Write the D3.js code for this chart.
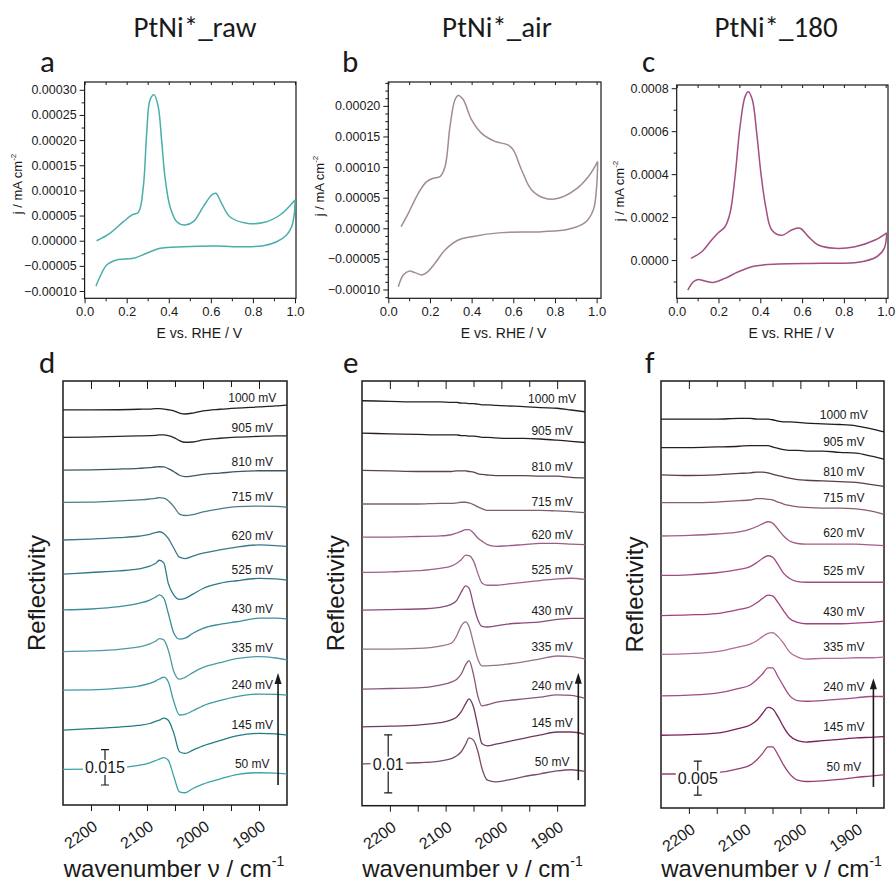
<!DOCTYPE html>
<html>
<head>
<meta charset="utf-8">
<script src="https://cdn.jsdelivr.net/npm/d3@7"></script>
<style>
    body { margin: 0; background: #fff; }
</style>
</head>
<body>
<div id="chart"></div>
<script>

/* * * * * * * * * * * * * *
*          data            *
* * * * * * * * * * * * * */

// electrode potentials of the stacked spectra (bottom to top)
const potentials = [50, 145, 240, 335, 430, 525, 620, 715, 810, 905, 1000];

// cyclic voltammograms, anodic (up) and cathodic (down) sweeps
const cvRawUpE = [0.057, 0.12, 0.184, 0.224, 0.256, 0.279, 0.295, 0.311, 0.33, 0.35, 0.366, 0.382, 0.406, 0.438, 0.477, 0.517, 0.564, 0.604, 0.624, 0.651, 0.69, 0.77, 0.85, 0.929, 1.0];
const cvRawUpJ = [0.0, 0.0000147, 0.0000378, 0.000051, 0.0000567, 0.000107, 0.000213, 0.00028, 0.00029, 0.000266, 0.0002, 0.000127, 0.0000676, 0.0000378, 0.0000312, 0.0000378, 0.0000676, 0.0000909, 0.0000942, 0.0000743, 0.0000477, 0.0000346, 0.000036, 0.0000511, 0.000081];
const cvRawDownE = [1.0, 0.997, 0.984, 0.96, 0.913, 0.85, 0.75, 0.627, 0.47, 0.358, 0.295, 0.232, 0.152, 0.105, 0.073, 0.054];
const cvRawDownJ = [0.000081, 0.0000545, 0.0000278, 0.0000113, -0.000002, -0.0000099, -0.0000119, -0.0000106, -0.0000119, -0.0000152, -0.000025, -0.000035, -0.0000384, -0.0000483, -0.0000716, -0.00009];

const cvAirUpE = [0.061, 0.096, 0.144, 0.184, 0.216, 0.248, 0.272, 0.296, 0.32, 0.336, 0.36, 0.4, 0.448, 0.512, 0.576, 0.6, 0.64, 0.688, 0.752, 0.816, 0.896, 0.96, 1.005];
const cvAirUpJ = [0.0000026, 0.0000245, 0.0000572, 0.0000762, 0.0000817, 0.0000843, 0.0001, 0.000166, 0.00021, 0.000217, 0.00021, 0.000177, 0.000155, 0.000142, 0.000136, 0.000128, 0.0000953, 0.0000626, 0.000049, 0.000049, 0.0000626, 0.0000843, 0.000109];
const cvAirDownE = [1.005, 1.0, 0.984, 0.944, 0.864, 0.736, 0.544, 0.4, 0.336, 0.272, 0.224, 0.184, 0.16, 0.128, 0.1, 0.072, 0.048];
const cvAirDownJ = [0.000109, 0.000068, 0.00003, 0.0000092, -0.0000016, -0.0000055, -0.0000071, -0.0000137, -0.0000191, -0.0000354, -0.0000572, -0.0000725, -0.0000763, -0.0000725, -0.00007, -0.0000763, -0.0000954];

const cv180UpE = [0.068, 0.12, 0.167, 0.199, 0.231, 0.255, 0.279, 0.303, 0.327, 0.343, 0.362, 0.383, 0.403, 0.426, 0.455, 0.502, 0.55, 0.59, 0.63, 0.678, 0.757, 0.853, 0.949, 1.005];
const cv180UpJ = [0.0000079, 0.0000387, 0.0000932, 0.000127, 0.000155, 0.000218, 0.000388, 0.000621, 0.000761, 0.000784, 0.000746, 0.00059, 0.000404, 0.000248, 0.00014, 0.000115, 0.00014, 0.000148, 0.000109, 0.00007, 0.0000545, 0.000062, 0.0000932, 0.000127];
const cv180DownE = [1.005, 0.993, 0.957, 0.869, 0.694, 0.486, 0.375, 0.295, 0.231, 0.175, 0.135, 0.103, 0.08, 0.053];
const cv180DownJ = [0.000127, 0.0000545, 0.0000154, -0.0000107, -0.0000154, -0.0000186, -0.000028, -0.0000545, -0.0000853, -0.000104, -0.0000979, -0.00009, -0.000101, -0.00014];

// CV axis ticks
const eTicks = [0, 0.2, 0.4, 0.6, 0.8, 1.0];
const eMinorTicks = [0.1, 0.3, 0.5, 0.7, 0.9];
const jTicksRaw = [-0.0001, -0.00005, 0, 0.00005, 0.0001, 0.00015, 0.0002, 0.00025, 0.0003];
const jTicksAir = [-0.0001, -0.00005, 0, 0.00005, 0.0001, 0.00015, 0.0002];
const jTicks180 = [0, 0.0002, 0.0004, 0.0006, 0.0008];

// IR spectra: wavenumber grid, stacking offsets and reflectivity change (50 mV ... 1000 mV)
const wnTicks = [2200, 2100, 2000, 1900];
const wnMinorTicks = [2150, 2050, 1950];

const wnRaw = [2250, 2200, 2150, 2115, 2095, 2085, 2078, 2070, 2062, 2052, 2042, 2032, 2018, 2000, 1970, 1940, 1900, 1870, 1850];
const offsetsRaw = [0.0151, 0.0318, 0.0488, 0.0651, 0.0828, 0.0980, 0.1125, 0.1285, 0.1422, 0.1561, 0.1677];
const spectraRaw = [
    [0, 0.0001, 0.0007, 0.0017, 0.0028, 0.0037, 0.0044, 0.0050, 0.0039, -0.0031, -0.0095, -0.0099, -0.0081, -0.0062, -0.0041, -0.0022, -0.0014, -0.0016, -0.0020],
    [0, 0.0006, 0.0013, 0.0020, 0.0028, 0.0037, 0.0042, 0.0051, 0.0042, -0.0014, -0.0092, -0.0099, -0.0085, -0.0067, -0.0045, -0.0025, -0.0014, -0.0016, -0.0021],
    [0, 0.0001, 0.0008, 0.0017, 0.0028, 0.0038, 0.0047, 0.0055, 0.0035, -0.0050, -0.0106, -0.0103, -0.0088, -0.0067, -0.0045, -0.0028, -0.0017, -0.0018, -0.0021],
    [0, 0.0003, 0.0010, 0.0020, 0.0033, 0.0044, 0.0055, 0.0050, 0.0007, -0.0085, -0.0117, -0.0109, -0.0089, -0.0067, -0.0047, -0.0030, -0.0021, -0.0027, -0.0035],
    [0, 0.0004, 0.0014, 0.0028, 0.0042, 0.0054, 0.0064, 0.0050, -0.0014, -0.0099, -0.0124, -0.0120, -0.0099, -0.0078, -0.0061, -0.0050, -0.0035, -0.0035, -0.0039],
    [0, 0.0007, 0.0014, 0.0022, 0.0034, 0.0045, 0.0059, 0.0048, -0.0039, -0.0089, -0.0107, -0.0103, -0.0085, -0.0061, -0.0039, -0.0028, -0.0018, -0.0020, -0.0025],
    [0, 0.0004, 0.0010, 0.0016, 0.0024, 0.0031, 0.0035, 0.0028, 0.0007, -0.0035, -0.0073, -0.0079, -0.0068, -0.0056, -0.0042, -0.0030, -0.0021, -0.0024, -0.0028],
    [0, 0.0001, 0.0006, 0.0010, 0.0014, 0.0017, 0.0020, 0.0018, 0.0007, -0.0018, -0.0050, -0.0056, -0.0052, -0.0041, -0.0028, -0.0018, -0.0016, -0.0017, -0.0021],
    [0, 0.0001, 0.0004, 0.0007, 0.0010, 0.0013, 0.0014, 0.0013, 0.0006, -0.0007, -0.0022, -0.0028, -0.0025, -0.0018, -0.0013, -0.0007, -0.0003, -0.0003, -0.0003],
    [0, 0.0001, 0.0004, 0.0006, 0.0007, 0.0008, 0.0010, 0.0010, 0.0007, -0.0001, -0.0014, -0.0021, -0.0020, -0.0011, -0.0004, 0.0001, 0.0004, 0.0006, 0.0006],
    [0, 0, 0.0001, 0.0003, 0.0004, 0.0006, 0.0006, 0.0004, 0.0001, -0.0004, -0.0013, -0.0017, -0.0013, -0.0004, 0.0003, 0.0008, 0.0013, 0.0017, 0.0021]
];

const wnAir = [2250, 2200, 2150, 2110, 2090, 2080, 2072, 2064, 2058, 2050, 2042, 2035, 2025, 2010, 1990, 1960, 1930, 1900, 1875, 1850];
const offsetsAir = [0.0072, 0.0136, 0.0201, 0.0270, 0.0337, 0.0402, 0.0463, 0.0520, 0.0578, 0.0642, 0.0698];
const spectraAir = [
    [0, 0.0001, 0.0002, 0.0005, 0.0009, 0.0014, 0.0021, 0.0034, 0.0045, 0.0041, 0.0021, -0.0007, -0.0028, -0.0031, -0.0028, -0.0022, -0.0017, -0.0012, -0.0010, -0.0013],
    [0, 0.0001, 0.0003, 0.0007, 0.0012, 0.0017, 0.0026, 0.0040, 0.0048, 0.0034, 0, -0.0029, -0.0033, -0.0030, -0.0026, -0.0020, -0.0014, -0.0009, -0.0009, -0.0013],
    [0, 0.0001, 0.0002, 0.0007, 0.0012, 0.0017, 0.0026, 0.0042, 0.0049, 0.0025, -0.0013, -0.0029, -0.0027, -0.0023, -0.0020, -0.0017, -0.0014, -0.0010, -0.0011, -0.0016],
    [0, 0, 0.0001, 0.0005, 0.0010, 0.0023, 0.0040, 0.0047, 0.0039, 0.0010, -0.0018, -0.0029, -0.0029, -0.0028, -0.0026, -0.0022, -0.0017, -0.0012, -0.0013, -0.0017],
    [0, 0.0001, 0.0002, 0.0005, 0.0010, 0.0017, 0.0031, 0.0042, 0.0038, 0.0009, -0.0017, -0.0028, -0.0029, -0.0027, -0.0024, -0.0022, -0.0020, -0.0016, -0.0014, -0.0014],
    [0, 0.0001, 0.0003, 0.0007, 0.0011, 0.0016, 0.0022, 0.0030, 0.0029, 0.0020, -0.0002, -0.0018, -0.0022, -0.0022, -0.0020, -0.0017, -0.0014, -0.0011, -0.0010, -0.0012],
    [0, 0, 0.0001, 0.0002, 0.0004, 0.0007, 0.0010, 0.0013, 0.0013, 0.0007, -0.0002, -0.0007, -0.0013, -0.0016, -0.0015, -0.0013, -0.0011, -0.0011, -0.0012, -0.0013],
    [0, 0, 0, 0.0001, 0.0001, 0.0002, 0.0003, 0.0003, 0.0002, -0.0001, -0.0005, -0.0008, -0.0011, -0.0011, -0.0011, -0.0011, -0.0011, -0.0012, -0.0013, -0.0015],
    [0, -0.0001, -0.0002, -0.0002, -0.0002, -0.0001, -0.0001, -0.0001, -0.0002, -0.0003, -0.0006, -0.0007, -0.0008, -0.0009, -0.0009, -0.0009, -0.0010, -0.0010, -0.0012, -0.0013],
    [0, -0.0001, -0.0002, -0.0003, -0.0003, -0.0003, -0.0004, -0.0004, -0.0005, -0.0005, -0.0006, -0.0007, -0.0007, -0.0008, -0.0009, -0.0009, -0.0010, -0.0012, -0.0014, -0.0016],
    [0, -0.0001, -0.0002, -0.0002, -0.0003, -0.0003, -0.0004, -0.0004, -0.0005, -0.0005, -0.0006, -0.0007, -0.0007, -0.0008, -0.0009, -0.0010, -0.0012, -0.0013, -0.0016, -0.0019]
];

const wn180 = [2250, 2200, 2150, 2110, 2090, 2078, 2068, 2058, 2050, 2040, 2030, 2020, 2005, 1990, 1960, 1930, 1900, 1875, 1850];
const offsets180 = [0.0050, 0.0107, 0.0165, 0.0226, 0.0283, 0.0342, 0.0400, 0.0449, 0.0490, 0.0530, 0.0572];
const spectra180 = [
    [0, 0, 0.0002, 0.0008, 0.0013, 0.0021, 0.0030, 0.0040, 0.0040, 0.0028, 0.0013, 0.0001, -0.0009, -0.0011, -0.0010, -0.0008, -0.0005, -0.0003, -0.0001],
    [0, 0.0001, 0.0003, 0.0010, 0.0015, 0.0022, 0.0032, 0.0041, 0.0039, 0.0027, 0.0012, 0, -0.0008, -0.0010, -0.0008, -0.0006, -0.0004, -0.0003, -0.0002],
    [0, 0.0001, 0.0004, 0.0011, 0.0016, 0.0024, 0.0032, 0.0041, 0.0041, 0.0028, 0.0014, 0.0001, -0.0007, -0.0008, -0.0007, -0.0005, -0.0003, -0.0001, -0.0001],
    [0, 0.0001, 0.0004, 0.0011, 0.0015, 0.0020, 0.0026, 0.0031, 0.0032, 0.0026, 0.0016, 0.0004, -0.0004, -0.0007, -0.0006, -0.0006, -0.0005, -0.0005, -0.0004],
    [0, 0.0001, 0.0003, 0.0009, 0.0013, 0.0019, 0.0025, 0.0030, 0.0029, 0.0019, 0.0007, -0.0004, -0.0010, -0.0012, -0.0012, -0.0012, -0.0011, -0.0010, -0.0008],
    [0, 0.0001, 0.0004, 0.0009, 0.0013, 0.0019, 0.0025, 0.0029, 0.0027, 0.0016, 0.0003, -0.0004, -0.0009, -0.0010, -0.0010, -0.0010, -0.0010, -0.0010, -0.0010],
    [0, 0.0001, 0.0003, 0.0006, 0.0010, 0.0014, 0.0018, 0.0021, 0.0019, 0.0010, 0, -0.0007, -0.0011, -0.0012, -0.0012, -0.0012, -0.0012, -0.0013, -0.0014],
    [0, 0, 0.0001, 0.0003, 0.0004, 0.0006, 0.0006, 0.0005, 0.0004, 0.0001, -0.0002, -0.0004, -0.0006, -0.0007, -0.0008, -0.0008, -0.0009, -0.0012, -0.0017],
    [0, -0.0001, 0, 0.0002, 0.0003, 0.0004, 0.0004, 0.0003, 0.0001, -0.0001, -0.0003, -0.0005, -0.0007, -0.0008, -0.0009, -0.0010, -0.0011, -0.0014, -0.0017],
    [0, 0, 0.0001, 0.0002, 0.0003, 0.0003, 0.0003, 0.0003, 0.0001, -0.0001, -0.0003, -0.0004, -0.0004, -0.0005, -0.0005, -0.0007, -0.0008, -0.0012, -0.0017],
    [0, 0, 0, 0.0001, 0.0001, 0, 0, 0, -0.0001, -0.0003, -0.0004, -0.0004, -0.0005, -0.0006, -0.0007, -0.0008, -0.0010, -0.0014, -0.0019]
];

// trace colours (50 mV ... 1000 mV)
const colorsRaw = ["#3aa3a6", "#1f7e82", "#3d9aa3", "#4d9aa6", "#3c8d9a", "#2f7889", "#3b7888", "#4d7b87", "#3b5862", "#1e2a30", "#222222"];
const colorsAir = ["#7a4c6c", "#6c3a5f", "#86587a", "#99708c", "#8a4c7a", "#a0628b", "#9a5c87", "#7f6070", "#5a4252", "#2a1c24", "#222222"];
const colors180 = ["#9a3c7a", "#7c1f5b", "#a24c87", "#b26c97", "#a2427c", "#a24c82", "#a25c87", "#8a5c72", "#5c3c4a", "#2a1c24", "#1c1c1c"];


/* * * * * * * * * * * * * *
*         drawing          *
* * * * * * * * * * * * * */

const sans = '"Liberation Sans", Arial, Helvetica, sans-serif';
const headFont = 'Carlito, "Open Sans", sans-serif';
const ink = "#1a1a1a";

const svg = d3.select("#chart").append("svg")
    .attr("width", 896)
    .attr("height", 882);

svg.append("rect").attr("width", 896).attr("height", 882).attr("fill", "#fff");

// header titles + panel letters
[["PtNi*_raw", 195], ["PtNi*_air", 497], ["PtNi*_180", 776]].forEach(([t, cx]) => {
    svg.append("text").text(t)
        .attr("x", cx).attr("y", 37)
        .attr("text-anchor", "middle")
        .attr("font-family", headFont).attr("font-size", 29)
        .attr("fill", ink);
});

[["a", 40, 72], ["b", 342, 72], ["c", 642, 72], ["d", 39, 373], ["e", 343, 373], ["f", 645, 373]].forEach(([t, x, y]) => {
    svg.append("text").text(t)
        .attr("x", x).attr("y", y)
        .attr("font-family", headFont).attr("font-size", 31)
        .attr("fill", ink);
});

function styleAxis(g, size) {
    g.select(".domain").remove();
    g.attr("font-family", sans).attr("font-size", size).attr("color", ink);
    g.selectAll(".tick line").attr("stroke-width", 1);
}

function minorSteps(lo, hi, step) {
    let out = [];
    let start = Math.ceil(lo / step - 1e-9);
    for (let k = start; k * step <= hi + 1e-12; k++) out.push(+(k * step).toFixed(9));
    return out;
}

/* ---------- cyclic voltammograms ---------- */

const cvPanels = [
    {box: {x0: 84.6, x1: 296, y0: 82, y1: 298.3}, xMax: 1.0048, yDomain: [-0.0001145, 0.0003155],
        ticks: jTicksRaw, minorStep: 0.000025, fmt: d3.format(".5f"), color: "#4aaeaa",
        up: [cvRawUpE, cvRawUpJ], down: [cvRawDownE, cvRawDownJ], labX: 22, labY: 184},
    {box: {x0: 388.3, x1: 601, y0: 82, y1: 298.3}, xMax: 1.021, yDomain: [-0.0001144, 0.000239],
        ticks: jTicksAir, minorStep: 0.0000125, fmt: d3.format(".5f"), color: "#a38b94",
        up: [cvAirUpE, cvAirUpJ], down: [cvAirDownE, cvAirDownJ], labX: 324, labY: 186},
    {box: {x0: 676.7, x1: 888, y0: 85, y1: 298.3}, xMax: 1.011, yDomain: [-0.000178, 0.000815],
        ticks: jTicks180, minorStep: 0.0001, fmt: d3.format(".4f"), color: "#a24f82",
        up: [cv180UpE, cv180UpJ], down: [cv180DownE, cv180DownJ], labX: 624, labY: 191}
];

cvPanels.forEach(p => {
    let b = p.box;
    let x = d3.scaleLinear().domain([0, p.xMax]).range([b.x0, b.x1]);
    let y = d3.scaleLinear().domain(p.yDomain).range([b.y1, b.y0]);
    let g = svg.append("g");

    let minorY = minorSteps(p.yDomain[0], p.yDomain[1], p.minorStep)
        .filter(v => !p.ticks.some(t => Math.abs(t - v) < 1e-9));

    // left axis
    g.append("g").attr("transform", `translate(${b.x0},0)`)
        .call(d3.axisLeft(y).tickValues(p.ticks).tickSize(5).tickPadding(3).tickFormat(p.fmt))
        .call(a => styleAxis(a, 12.5));
    g.append("g").attr("transform", `translate(${b.x0},0)`)
        .call(d3.axisLeft(y).tickValues(minorY).tickSize(3).tickFormat(""))
        .call(a => styleAxis(a, 12));

    // bottom axis
    g.append("g").attr("transform", `translate(0,${b.y1})`)
        .call(d3.axisBottom(x).tickValues(eTicks).tickSize(5).tickPadding(3).tickFormat(d3.format(".1f")))
        .call(a => styleAxis(a, 13));
    g.append("g").attr("transform", `translate(0,${b.y1})`)
        .call(d3.axisBottom(x).tickValues(eMinorTicks).tickSize(3).tickFormat(""))
        .call(a => styleAxis(a, 12));

    // top ticks pointing inward
    g.append("g").attr("transform", `translate(0,${b.y0})`)
        .call(d3.axisTop(x).tickValues(eTicks.concat(eMinorTicks)).tickSize(-3).tickFormat(""))
        .call(a => styleAxis(a, 12));

    g.append("rect")
        .attr("x", b.x0).attr("y", b.y0)
        .attr("width", b.x1 - b.x0).attr("height", b.y1 - b.y0)
        .attr("fill", "none").attr("stroke", ink).attr("stroke-width", 1.2);

    let line = d3.line()
        .x(d => x(d[0])).y(d => y(d[1]))
        .curve(d3.curveCatmullRom.alpha(0.5));

    [p.up, p.down].forEach(([es, js]) => {
        g.append("path")
            .datum(es.map((e, i) => [e, js[i]]))
            .attr("d", line)
            .attr("fill", "none")
            .attr("stroke", p.color)
            .attr("stroke-width", 1.5);
    });

    // axis titles
    let yl = g.append("text")
        .attr("transform", `translate(${p.labX},${p.labY}) rotate(-90)`)
        .attr("text-anchor", "middle")
        .attr("font-family", sans).attr("font-size", 13).attr("fill", ink);
    yl.append("tspan").text("j / mA cm");
    yl.append("tspan").text("-2").attr("font-size", 8).attr("dy", -6);

    g.append("text").text("E vs. RHE / V")
        .attr("x", (b.x0 + b.x1) / 2 + 9).attr("y", 338)
        .attr("text-anchor", "middle")
        .attr("font-family", sans).attr("font-size", 14).attr("fill", ink);
});

/* ---------- stacked IR spectra ---------- */

const irPanels = [
    {box: {x0: 63, x1: 287, y0: 381, y1: 805}, yMax: 0.18, wn: wnRaw, offsets: offsetsRaw,
        spectra: spectraRaw, colors: colorsRaw, labelWn: 1912, labelDy: -9,
        bar: {wn: 2175, base: 0.0085, value: 0.015}, arrow: {wn: 1866, from: 0.0085, to: 0.056}},
    {box: {x0: 362, x1: 585, y0: 381, y1: 805.7}, yMax: 0.0732, wn: wnAir, offsets: offsetsAir,
        spectra: spectraAir, colors: colorsAir, labelWn: 1909, labelDy: -9,
        bar: {wn: 2203, base: 0.0022, value: 0.01}, arrow: {wn: 1862, from: 0.0044, to: 0.0229}},
    {box: {x0: 661, x1: 884, y0: 381, y1: 808}, yMax: 0.0628, wn: wn180, offsets: offsets180,
        spectra: spectra180, colors: colors180, labelWn: 1922, labelDy: -11,
        bar: {wn: 2184, base: 0.0019, value: 0.005}, arrow: {wn: 1869, from: 0.0031, to: 0.0191}}
];

irPanels.forEach(p => {
    let b = p.box;
    let x = d3.scaleLinear().domain([2250, 1850]).range([b.x0, b.x1]);
    let y = d3.scaleLinear().domain([0, p.yMax]).range([b.y1, b.y0]);
    let g = svg.append("g");

    // bottom axis with tilted labels
    g.append("g").attr("transform", `translate(0,${b.y1})`)
        .call(d3.axisBottom(x).tickValues(wnTicks).tickSize(6).tickFormat(d3.format("d")))
        .call(a => styleAxis(a, 16))
        .selectAll("text")
        .attr("x", 0).attr("y", 0).attr("dy", 0)
        .attr("text-anchor", "end")
        .attr("transform", "translate(7,24) rotate(-35)");
    g.append("g").attr("transform", `translate(0,${b.y1})`)
        .call(d3.axisBottom(x).tickValues(wnMinorTicks).tickSize(6).tickFormat(""))
        .call(a => styleAxis(a, 12));

    // inward ticks on top frame
    g.append("g").attr("transform", `translate(0,${b.y0})`)
        .call(d3.axisTop(x).tickValues(wnTicks).tickSize(-8).tickFormat(""))
        .call(a => styleAxis(a, 12));
    g.append("g").attr("transform", `translate(0,${b.y0})`)
        .call(d3.axisTop(x).tickValues(wnMinorTicks).tickSize(-6).tickFormat(""))
        .call(a => styleAxis(a, 12));

    g.append("rect")
        .attr("x", b.x0).attr("y", b.y0)
        .attr("width", b.x1 - b.x0).attr("height", b.y1 - b.y0)
        .attr("fill", "none").attr("stroke", ink).attr("stroke-width", 1.5);

    let line = d3.line()
        .x(d => x(d[0])).y(d => y(d[1]))
        .curve(d3.curveMonotoneX);

    let iLab = p.wn.indexOf(1900);

    p.spectra.forEach((s, i) => {
        g.append("path")
            .datum(p.wn.map((w, k) => [w, p.offsets[i] + s[k]]))
            .attr("d", line)
            .attr("fill", "none")
            .attr("stroke", p.colors[i])
            .attr("stroke-width", 1.3);

        g.append("text").text(potentials[i] + " mV")
            .attr("x", x(p.labelWn))
            .attr("y", y(p.offsets[i] + s[iLab]) + p.labelDy)
            .attr("dy", "0.35em")
            .attr("text-anchor", "middle")
            .attr("font-family", sans).attr("font-size", 12).attr("fill", ink);
    });

    // scale bar
    let sx = x(p.bar.wn), sy0 = y(p.bar.base), sy1 = y(p.bar.base + p.bar.value);
    g.append("path")
        .attr("d", `M${sx - 4},${sy1}H${sx + 4}M${sx},${sy1}V${sy0}M${sx - 4},${sy0}H${sx + 4}`)
        .attr("fill", "none").attr("stroke", ink).attr("stroke-width", 1.2);
    let bg = g.append("rect").attr("fill", "#fff");
    let sl = g.append("text").text(String(p.bar.value))
        .attr("x", sx).attr("y", (sy0 + sy1) / 2)
        .attr("dy", "0.35em")
        .attr("text-anchor", "middle")
        .attr("font-family", sans).attr("font-size", 16).attr("fill", ink);
    let bb = sl.node().getBBox();
    bg.attr("x", bb.x - 2).attr("y", bb.y + 1).attr("width", bb.width + 4).attr("height", bb.height - 2);

    // potential arrow
    let ax = x(p.arrow.wn), ay0 = y(p.arrow.from), ay1 = y(p.arrow.to);
    g.append("line")
        .attr("x1", ax).attr("x2", ax)
        .attr("y1", ay0).attr("y2", ay1 + 8)
        .attr("stroke", ink).attr("stroke-width", 1.6);
    g.append("path")
        .attr("d", `M${ax},${ay1}L${ax - 3.5},${ay1 + 11}L${ax + 3.5},${ay1 + 11}Z`)
        .attr("fill", ink);

    // axis titles
    g.append("text").text("Reflectivity")
        .attr("transform", `translate(${b.x0 - 18},${(b.y0 + b.y1) / 2}) rotate(-90)`)
        .attr("text-anchor", "middle")
        .attr("font-family", sans).attr("font-size", 24).attr("fill", ink);

    let xl = g.append("text")
        .attr("x", (b.x0 + b.x1) / 2 - 1).attr("y", 877)
        .attr("text-anchor", "middle")
        .attr("font-family", sans).attr("font-size", 24).attr("fill", ink);
    xl.append("tspan").text("wavenumber \u03bd / cm");
    xl.append("tspan").text("-1").attr("font-size", 14).attr("dy", -11);
});

</script>
</body>
</html>
